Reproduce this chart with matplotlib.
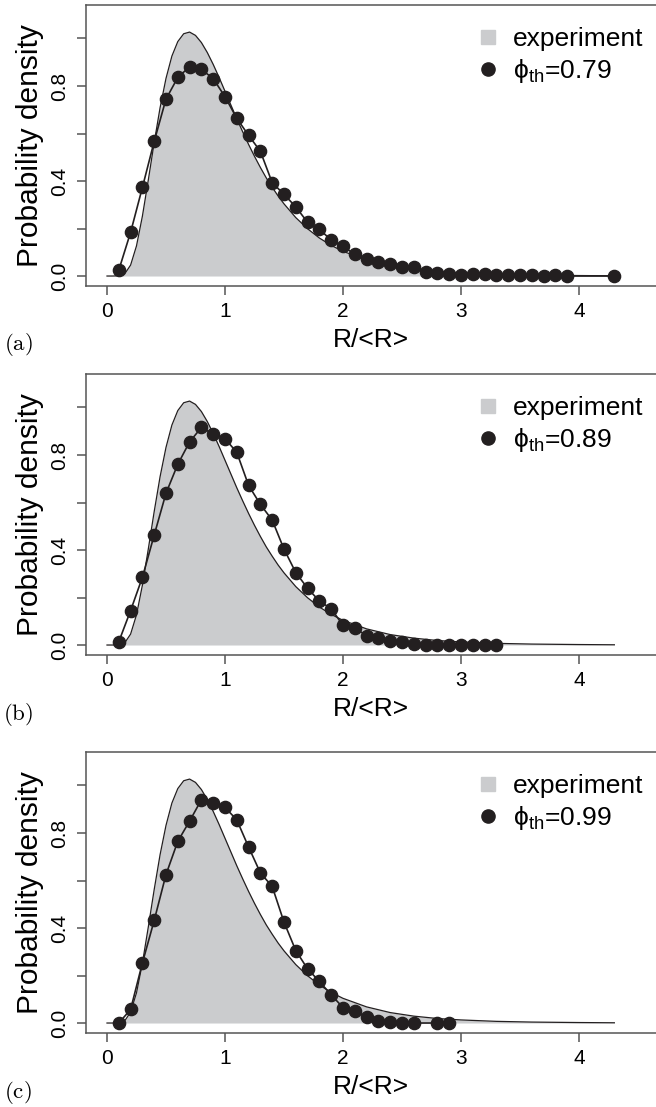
import matplotlib
matplotlib.use("Agg")
import matplotlib.pyplot as plt
from matplotlib.lines import Line2D

plt.rcParams['font.family'] = ['Liberation Sans', 'DejaVu Sans']
plt.rcParams['mathtext.fontset'] = 'custom'
plt.rcParams['mathtext.rm'] = 'Liberation Sans'
plt.rcParams['mathtext.it'] = 'Liberation Sans:italic'

# measured size distribution (shaded curve), same in every panel
exp_x = [0.0, 0.05, 0.10, 0.15, 0.20, 0.25, 0.30, 0.35, 0.40, 0.45, 0.50,
         0.55, 0.60, 0.65, 0.70, 0.75, 0.80, 0.85, 0.90, 0.95, 1.00,
         1.05, 1.10, 1.15, 1.20, 1.25, 1.30, 1.35, 1.40, 1.45, 1.50,
         1.60, 1.70, 1.80, 1.90, 2.00, 2.20, 2.40, 2.60, 2.80, 3.00,
         3.30, 3.60, 4.00, 4.30]
exp_y = [0.0, 0.0, 0.001, 0.009, 0.046, 0.127, 0.252, 0.404, 0.562, 0.709, 0.832,
         0.926, 0.987, 1.020, 1.027, 1.013, 0.983, 0.941, 0.891, 0.836, 0.778,
         0.720, 0.662, 0.607, 0.554, 0.504, 0.457, 0.413, 0.374, 0.337, 0.304,
         0.246, 0.199, 0.160, 0.129, 0.104, 0.068, 0.044, 0.029, 0.019, 0.013,
         0.007, 0.004, 0.002, 0.001]

# simulated distributions for three threshold packing fractions
xa = [round(0.1 * i, 1) for i in range(1, 40)] + [4.3]
ya = [0.025, 0.184, 0.373, 0.567, 0.745, 0.836, 0.881, 0.870, 0.831, 0.755,
      0.664, 0.592, 0.525, 0.393, 0.344, 0.291, 0.226, 0.196, 0.152, 0.125,
      0.091, 0.072, 0.058, 0.049, 0.037, 0.037, 0.017, 0.011, 0.008, 0.003,
      0.008, 0.007, 0.003, 0.003, 0.003, 0.003, 0.0, 0.003, 0.0, 0.0]

xb = [round(0.1 * i, 1) for i in range(1, 34)]
yb = [0.014, 0.145, 0.285, 0.463, 0.639, 0.761, 0.855, 0.916, 0.888, 0.869,
      0.811, 0.672, 0.592, 0.526, 0.404, 0.305, 0.239, 0.185, 0.153, 0.083,
      0.071, 0.040, 0.028, 0.017, 0.012, 0.004, 0.001, 0.0, 0.0, 0.0,
      0.0, 0.0, 0.0]

xc = [round(0.1 * i, 1) for i in range(1, 27)] + [2.8, 2.9]
yc = [0.0, 0.057, 0.253, 0.432, 0.625, 0.765, 0.850, 0.940, 0.928, 0.908,
      0.855, 0.741, 0.632, 0.575, 0.425, 0.305, 0.228, 0.175, 0.119, 0.065,
      0.052, 0.024, 0.010, 0.004, 0.0, 0.0, 0.0, 0.0]

phis = ['0.79', '0.89', '0.99']
tags = ['(a)', '(b)', '(c)']

W, H = 656, 1107
fig = plt.figure(figsize=(W / 100, H / 100), dpi=100)

dark = '#231f20'
grey = '#cbccce'
boxcol = '#555555'

tops = [5, 374, 752]
ph = 281
for k, (xs, ys) in enumerate([(xa, ya), (xb, yb), (xc, yc)]):
    top = tops[k]
    ax = fig.add_axes([86 / W, (H - top - ph) / H, (W - 86) / W, ph / H])
    ax.fill_between(exp_x, exp_y, 0, color=grey, lw=0)
    ax.plot(exp_x, exp_y, color=dark, lw=0.9)
    ax.plot(xs, ys, color=dark, lw=1.2, marker='o', ms=8.8,
            mfc=dark, mec=dark)
    ax.set_xlim(-0.178, 4.653)
    ax.set_ylim(-0.042, 1.141)
    ax.spines['right'].set_visible(False)
    for s in ['left', 'top', 'bottom']:
        ax.spines[s].set_color(boxcol)
        ax.spines[s].set_linewidth(1.1)
    ax.set_xticks([0, 1, 2, 3, 4])
    ax.set_yticks([0, 0.2, 0.4, 0.6, 0.8, 1.0])
    ax.set_yticklabels(['0.0', '', '0.4', '', '0.8', ''])
    ax.tick_params(axis='both', length=6.5, width=1.1, color=boxcol,
                   labelsize=15)
    ax.tick_params(axis='x', pad=5)
    ax.tick_params(axis='y', pad=6)
    for t in ax.get_yticklabels():
        t.set_rotation(90)
        t.set_va('center')
    ax.set_xlabel('R/<R>', fontsize=19, labelpad=5)
    ax.set_ylabel('Probability density', fontsize=21.5, labelpad=4)

    handles = [Line2D([], [], ls='none', marker='s', ms=9.5, color=grey),
               Line2D([], [], ls='none', marker='o', ms=9.5, color=dark)]
    labels = ['experiment', r'ϕ$_{\mathrm{th}}$=' + phis[k]]
    ax.legend(handles, labels, loc='upper left',
              bbox_to_anchor=(0.687, 0.92), frameon=False, fontsize=19,
              handlelength=0.8, handletextpad=0.55, borderpad=0,
              borderaxespad=0, labelspacing=0.2)

    fig.text(18 / W, 1 - (top + ph + 59) / H, r'$\mathrm{' + tags[k] + '}$',
             fontsize=16.5, math_fontfamily='cm', ha='center', va='center')

fig.savefig('out.png', dpi=100)
